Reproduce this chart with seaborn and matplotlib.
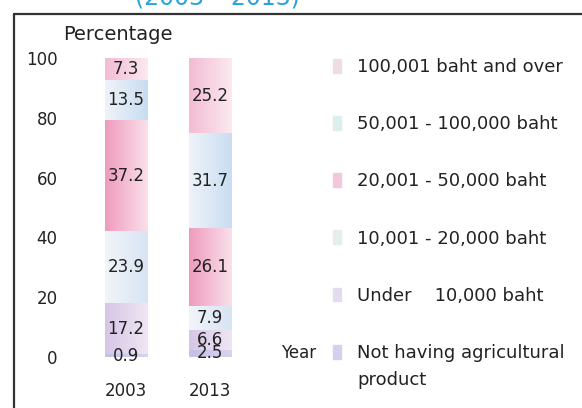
import matplotlib
matplotlib.use("Agg")
import matplotlib.pyplot as plt
from matplotlib.lines import Line2D
from matplotlib.colors import LinearSegmentedColormap
import seaborn as sns
import numpy as np

years = ["2003", "2013"]
categories = ["Not having agricultural", "Under    10,000 baht", "10,001 - 20,000 baht",
              "20,001 - 50,000 baht", "50,001 - 100,000 baht", "100,001 baht and over"]
v2003 = [0.9, 17.2, 23.9, 37.2, 13.5, 7.3]
v2013 = [2.5, 6.6, 7.9, 26.1, 31.7, 25.2]
yticks = [0, 20, 40, 60, 80, 100]
grad_left = ["#c4c0e6", "#d6c6e6", "#f2f5fa", "#ee9cbe", "#eef3f9", "#f3bcd3"]
grad_right = ["#d8d4ee", "#efe6f3", "#d6e4f3", "#fae0ea", "#c9ddf1", "#fbe9f0"]
legend_colors = ["#d4d0ee", "#e4dcee", "#e6eeea", "#f4c8da", "#dcefee", "#efdde4"]

sns.set_style("white")
plt.rcParams["font.family"] = ["DejaVu Sans"]

W, H = 582, 408
fig = plt.figure(figsize=(W / 100, H / 100), dpi=100)
ax = fig.add_axes([84 / W, 51 / H, 168 / W, 299 / H])

grad = np.linspace(0, 1, 64).reshape(1, -1)
bottoms = np.zeros(2)
for cat, a, b, cl, cr in zip(categories, v2003, v2013, grad_left, grad_right):
    vals = np.array([a, b])
    n_before = len(ax.patches)
    sns.barplot(x=years, y=vals, bottom=bottoms, color=cl, width=0.51,
                errorbar=None, ax=ax, linewidth=0, saturation=1)
    cmap = LinearSegmentedColormap.from_list("g", [cl, cr])
    for p in ax.patches[n_before:]:
        x0, y0 = p.get_x(), p.get_y()
        w, h = p.get_width(), p.get_height()
        im = ax.imshow(grad, cmap=cmap, extent=[x0, x0 + w, y0, y0 + h],
                       aspect="auto", interpolation="bicubic", zorder=p.get_zorder())
        im.set_clip_path(p)
    for i, v in enumerate(vals):
        ax.text(i, bottoms[i] + v / 2, f"{v}", ha="center", va="center",
                fontsize=12, color="#222222", zorder=5)
    bottoms = bottoms + vals

ax.set_xlim(-0.5, 1.5)
ax.set_ylim(0, 100)
ax.set_yticks(yticks)
ax.set_yticklabels([str(t) for t in yticks], fontsize=12, color="#222222")
ax.set_xticks([0, 1])
ax.set_xticklabels(years, fontsize=12, color="#222222")
ax.tick_params(axis="y", length=0, pad=19)
ax.tick_params(axis="x", length=0, pad=18)
ax.set_xlabel("")
ax.set_ylabel("")
for s in ax.spines.values():
    s.set_visible(False)
ax.patch.set_alpha(0)

fig.text(63 / W, 1 - 34 / H, "Percentage", fontsize=14, va="center", ha="left", color="#222222")
fig.text(281 / W, 1 - 353 / H, "Year", fontsize=12, va="center", ha="left", color="#222222")
fig.text(217 / W, 1 - 4 / H, "(2003 – 2013)", fontsize=17, va="baseline", ha="center", color="#2aa3da")

fig.add_artist(Line2D([14 / W, 1.0], [1 - 14 / H, 1 - 14 / H], transform=fig.transFigure,
                      color="#333333", lw=1.6))
fig.add_artist(Line2D([14 / W, 14 / W], [0, 1 - 14 / H], transform=fig.transFigure,
                      color="#333333", lw=1.6))

handles = [plt.Rectangle((0, 0), 1, 1, color=c) for c in legend_colors]
fig.legend(handles[::-1], categories[::-1], loc="upper left",
           bbox_to_anchor=(333 / W, 1 - 58 / H), frameon=False, fontsize=13,
           handlelength=0.45, handleheight=0.8, handletextpad=0.9,
           labelspacing=2.17, borderpad=0, borderaxespad=0, labelcolor="#222222")
fig.text(357 / W, 1 - 380 / H, "product", fontsize=13, va="center", ha="left", color="#222222")

fig.savefig("out.png", dpi=100)
